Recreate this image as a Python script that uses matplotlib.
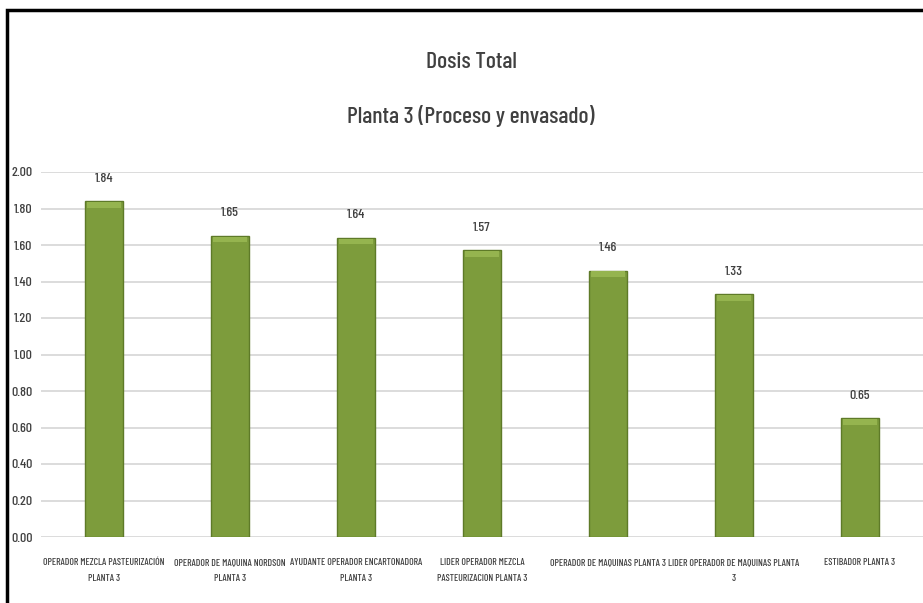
import matplotlib
matplotlib.use("Agg")
import matplotlib.pyplot as plt
from matplotlib.patches import Rectangle
import numpy as np

plt.rcParams['font.family'] = ['Barlow Condensed', 'Roboto Condensed',
                               'IBM Plex Sans Condensed', 'DejaVu Sans']
plt.rcParams['font.weight'] = 500

categories = [
    "OPERADOR MEZCLA PASTEURIZACIÓN\nPLANTA 3",
    "OPERADOR DE MAQUINA NORDSON\nPLANTA 3",
    "AYUDANTE OPERADOR ENCARTONADORA\nPLANTA 3",
    "LIDER OPERADOR MEZCLA\nPASTEURIZACION PLANTA 3",
    "OPERADOR DE MAQUINAS PLANTA 3",
    "LIDER OPERADOR DE MAQUINAS PLANTA\n3",
    "ESTIBADOR PLANTA 3",
]
values = [1.84, 1.65, 1.64, 1.57, 1.46, 1.33, 0.65]
yticks = [0.0, 0.2, 0.4, 0.6, 0.8, 1.0, 1.2, 1.4, 1.6, 1.8, 2.0]

W, H = 923, 603
fig = plt.figure(figsize=(W / 100, H / 100), dpi=100)
fig.patch.set_facecolor("white")

# outer frame
fig.patches.append(Rectangle((7 / W, -0.05), 1.2, 1 - 10 / H + 0.05,
                             transform=fig.transFigure, fill=False,
                             edgecolor="black", linewidth=2.5))

ax = fig.add_axes([41 / W, 1 - 537 / H, 1 - 41 / W, (537 - 172) / H])
x = np.arange(len(categories))
ax.set_xlim(-0.5, len(categories) - 0.5)
ax.set_ylim(0, 2.0)

for yv in yticks:
    ax.axhline(yv, color="#d9d9d9", linewidth=1.3, zorder=0)

bw = 0.3
ax.bar(x, values, width=bw, color="#7d9c3c", edgecolor="#5e7a28",
       linewidth=1.0, zorder=2)
# bevel highlight at the top of each bar
ax.bar(x, [0.03] * len(values), bottom=[v - 0.035 for v in values],
       width=bw * 0.9, color="#95b44f", linewidth=0, zorder=3)

for xi, v in zip(x, values):
    ax.text(xi, v + 0.09, f"{v:.2f}", ha="center", va="bottom",
            fontsize=10, color="#404040")

ax.set_yticks(yticks)
ax.set_yticklabels([f"{t:.2f}" for t in yticks], fontsize=10, color="#404040")
ax.set_xticks(x)
ax.set_xticklabels(categories, fontsize=7, color="#404040", linespacing=2.0)
ax.tick_params(axis="both", length=0)
ax.tick_params(axis="y", pad=6)
ax.tick_params(axis="x", pad=15)
for s in ax.spines.values():
    s.set_visible(False)

fig.text(471 / W, 1 - 62 / H, "Dosis Total", ha="center", va="center",
         fontsize=17, color="#404040")
fig.text(471 / W, 1 - 116 / H, "Planta 3 (Proceso y envasado)", ha="center",
         va="center", fontsize=17, color="#404040")

fig.savefig("out.png", dpi=100)
